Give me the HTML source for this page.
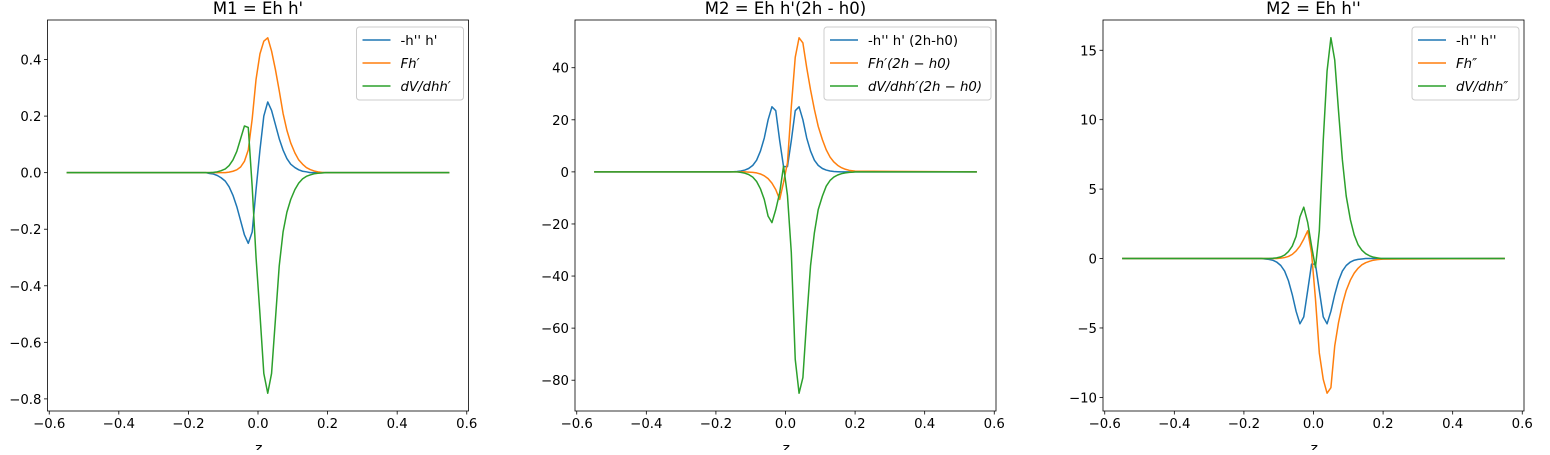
<!DOCTYPE html>
<html><head><meta charset="utf-8">
<style>
body{margin:0;background:#fff;}
svg text{font-family:"DejaVu Sans","Liberation Sans",sans-serif;fill:#000;}
</style></head>
<body>
<svg id="fig" width="1550" height="450" viewBox="0 0 1550 450" xmlns="http://www.w3.org/2000/svg"></svg>
<script>
const zVals = [-0.55,-0.2,-0.194,-0.183,-0.172,-0.161,-0.15,-0.139,-0.128,-0.117,-0.106,-0.094,-0.083,-0.072,-0.061,-0.05,-0.039,-0.028,-0.0167,-0.0056,0.0056,0.0167,0.028,0.039,0.05,0.061,0.072,0.083,0.094,0.106,0.117,0.128,0.139,0.15,0.161,0.172,0.183,0.194,0.2,0.55];
// plot 1
const p1Blue =   [0,0,0,0,0,0,0,-0.003,-0.005,-0.01,-0.018,-0.03,-0.05,-0.08,-0.12,-0.17,-0.22,-0.25,-0.21,-0.06,0.08,0.2,0.25,0.22,0.17,0.12,0.08,0.05,0.03,0.018,0.01,0.005,0.003,0,0,0,0,0,0,0];
const p1Orange = [0,0,0,0,0,0,0,0,0,0,0,0,0.002,0.005,0.01,0.02,0.04,0.08,0.19,0.33,0.42,0.465,0.477,0.43,0.365,0.29,0.21,0.15,0.105,0.07,0.045,0.03,0.018,0.011,0.006,0.003,0.001,0,0,0];
const p1Green =  [0,0,0,0,0,0,0,0,0.001,0.003,0.007,0.013,0.025,0.045,0.075,0.12,0.165,0.16,-0.05,-0.3,-0.5,-0.71,-0.78,-0.71,-0.52,-0.33,-0.21,-0.14,-0.095,-0.06,-0.037,-0.022,-0.013,-0.008,-0.004,-0.002,-0.001,0,0,0];
// plot 2
const p2Blue =   [0,0,0,0,0,0,0.07,0.15,0.35,0.7,1.3,2.5,4.5,8,13,20,25,23.5,12,2,2,12,23.5,25,20,13,8,4.5,2.5,1.3,0.7,0.35,0.15,0.07,0,0,0,0,0,0];
const p2Orange = [0,0,0,0,0,0,0,0,0,0,-0.1,-0.2,-0.4,-0.8,-1.5,-2.6,-4.3,-6.8,-10.6,-4,3.5,25,44,51.5,49.5,40,31.5,24,17.5,12.4,8.5,5.7,3.8,2.5,1.6,1,0.6,0.4,0.3,0];
const p2Green =  [0,0,0,0,0,0,0,0,-0.2,-0.5,-1,-2,-3.7,-6.5,-10.6,-17,-19.5,-14.5,-8,2.2,-9,-31,-72,-85,-79,-56.6,-36,-23.4,-14.5,-9.3,-5.5,-3.3,-2,-1.2,-0.7,-0.4,-0.2,-0.1,0,0];
// plot 3
const p3Blue =   [0,0,0,0,0,0,0,-0.03,-0.06,-0.12,-0.25,-0.5,-0.9,-1.6,-2.6,-3.8,-4.7,-4.2,-2.3,-0.4,-0.4,-2.3,-4.2,-4.7,-3.8,-2.6,-1.6,-0.9,-0.5,-0.25,-0.12,-0.06,-0.03,0,0,0,0,0,0,0];
const p3Orange = [0,0,0,0,0,0,0,0,0,0,0,0.03,0.07,0.15,0.3,0.55,0.9,1.4,2.0,0.4,-2.9,-6.8,-8.7,-9.7,-9.3,-6.3,-4.6,-3.3,-2.3,-1.55,-1.05,-0.7,-0.45,-0.3,-0.2,-0.12,-0.08,-0.05,-0.04,0];
const p3Green =  [0,0,0,0,0,0,0,0,0,0.02,0.05,0.12,0.25,0.5,0.9,1.6,3.0,3.7,2.6,0.9,-0.65,2,8.5,13.5,15.9,14.3,10.6,7.1,4.5,2.8,1.7,1.0,0.6,0.35,0.2,0.1,0.05,0,0,0];

const xTicks = [-0.6,-0.4,-0.2,0.0,0.2,0.4,0.6];
const xTickLabels = ['−0.6','−0.4','−0.2','0.0','0.2','0.4','0.6'];
const y1Ticks = [0.4,0.2,0.0,-0.2,-0.4,-0.6,-0.8];
const y1TickLabels = ['0.4','0.2','0.0','−0.2','−0.4','−0.6','−0.8'];
const y2Ticks = [40,20,0,-20,-40,-60,-80];
const y2TickLabels = ['40','20','0','−20','−40','−60','−80'];
const y3Ticks = [15,10,5,0,-5,-10];
const y3TickLabels = ['15','10','5','0','−5','−10'];

const titles = ["M1 = Eh h'", "M2 = Eh h'(2h - h0)", "M2 = Eh h''"];
const legend1 = ["-h'' h'", "Fh′", "dV/dhh′"];
const legend2 = ["-h'' h' (2h-h0)", "Fh′(2h − h0)", "dV/dhh′(2h − h0)"];
const legend3 = ["-h'' h''", "Fh″", "dV/dhh″"];
const colors = ['#1f77b4','#ff7f0e','#2ca02c'];
const NS = 'http://www.w3.org/2000/svg';
const svg = document.getElementById('fig');

function mk(tag, attrs, parent){
  const e = document.createElementNS(NS, tag);
  for (const k in attrs) e.setAttribute(k, attrs[k]);
  (parent||svg).appendChild(e);
  return e;
}

function drawPanel(idx, left, series, yTicks, yLabels, legendLabels, legW){
  const top = 20, bottom = 411, W = 421, right = left + W;
  const g = mk('g', {});
  
  
  const zmin = Math.min(...zVals), zmax = Math.max(...zVals);
  const zpad = (zmax - zmin) * 0.05;
  const x = v => left + (v - (zmin - zpad)) / ((zmax + zpad) - (zmin - zpad)) * W;
  let all = [].concat(...series);
  const vmin = Math.min(...all), vmax = Math.max(...all);
  const pad = (vmax - vmin) * 0.05;
  const y0 = vmin - pad, y1 = vmax + pad;
  const y = v => bottom - (v - y0) / (y1 - y0) * (bottom - top);

  series.forEach((s, si) => {
    const d = s.map((v, i) => (i ? 'L' : 'M') + x(zVals[i]).toFixed(2) + ',' + y(v).toFixed(2)).join('');
    const p = mk('path', {d: d, fill: 'none', stroke: colors[si], 'stroke-width': 1.5, 'stroke-linejoin': 'round'}, g);
    
    
  });

  const fr = mk('rect', {x: left, y: top, width: W, height: bottom - top, fill: 'none', stroke: '#000', 'stroke-width': 0.8}, g);
  
  

  xTicks.forEach((t, i) => {
    const px = x(t);
    mk('line', {x1: px, x2: px, y1: bottom, y2: bottom + 3.5, stroke: '#000', 'stroke-width': 0.8}, g);
    const tx = mk('text', {x: px, y: bottom + 17, 'text-anchor': 'middle', 'font-size': 13.3}, g);
    tx.textContent = xTickLabels[i];
    
    
  });
  yTicks.forEach((t, i) => {
    if (t < y0 || t > y1) return;
    const py = y(t);
    mk('line', {x1: left - 3.5, x2: left, y1: py, y2: py, stroke: '#000', 'stroke-width': 0.8}, g);
    const tx = mk('text', {x: left - 6, y: py + 5, 'text-anchor': 'end', 'font-size': 13.3}, g);
    tx.textContent = yLabels[i];
    
    
  });
  const tt = mk('text', {x: left + W/2, y: 14, 'text-anchor': 'middle', 'font-size': 16.5}, g);
  tt.textContent = titles[idx];
  
  
  const xl = mk('text', {x: left + W/2, y: 453, 'text-anchor': 'middle', 'font-size': 14, 'font-style': 'italic'}, g);
  xl.textContent = 'z';
  
  

  const lx = right - 5 - legW, ly = 27;
  const lg = mk('g', {}, g);
  
  
  mk('rect', {x: lx, y: ly, width: legW, height: 73, rx: 3, fill: '#fff', 'fill-opacity': 0.8, stroke: '#ccc', 'stroke-width': 1}, lg);
  legendLabels.forEach((lab, i) => {
    const yy = ly + 13 + i * 23;
    mk('line', {x1: lx + 6, x2: lx + 34, y1: yy, y2: yy, stroke: colors[i], 'stroke-width': 1.5}, lg);
    const t = mk('text', {x: lx + 44, y: yy + 5, 'font-size': 13.3, 'font-style': i ? 'italic' : 'normal'}, lg);
    t.textContent = lab;
    
    
  });
}

drawPanel(0, 47.5, [p1Blue, p1Orange, p1Green], y1Ticks, y1TickLabels, legend1, 107);
drawPanel(1, 575, [p2Blue, p2Orange, p2Green], y2Ticks, y2TickLabels, legend2, 167);
drawPanel(2, 1103, [p3Blue, p3Orange, p3Green], y3Ticks, y3TickLabels, legend3, 107);
</script>
</body></html>
